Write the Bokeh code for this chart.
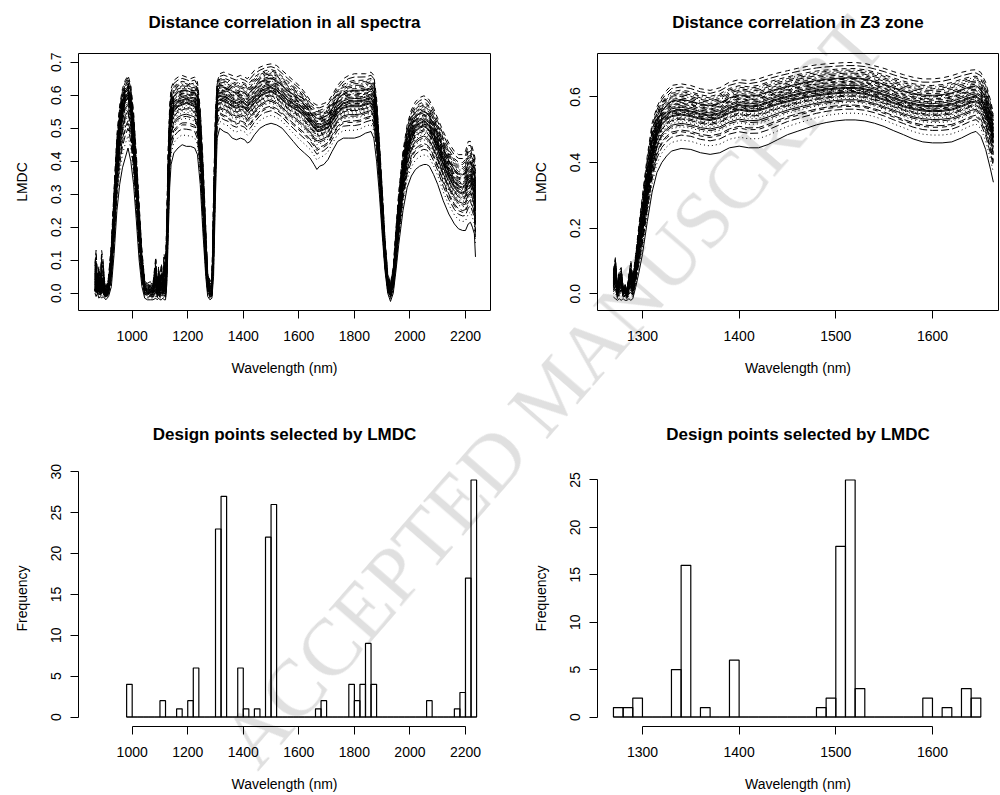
import math
import numpy as np
from bokeh.plotting import figure
from bokeh.layouts import column, row
from bokeh.models import FixedTicker, NumeralTickFormatter, Range1d, Div, Title
from bokeh.embed import file_html
from bokeh.resources import INLINE

# ---------------- data ----------------
# All-spectra LMDC curves: lowest, median and highest curve
wl_all = [866, 870, 875, 880, 885, 890, 895, 900, 905, 910,
          915, 925, 935, 945, 955, 965, 975, 985, 995, 1005,
          1015, 1025, 1035, 1045, 1055, 1065, 1075, 1085, 1090, 1095,
          1100, 1105, 1110, 1115, 1120, 1125, 1130, 1135, 1140, 1150,
          1165, 1180, 1195, 1210, 1225, 1235, 1245, 1255, 1265, 1272,
          1280, 1287, 1293, 1300, 1306, 1315, 1330, 1345, 1360, 1375,
          1390, 1405, 1415, 1425, 1440, 1460, 1480, 1500, 1520, 1540,
          1560, 1580, 1600, 1620, 1640, 1655, 1665, 1675, 1690, 1705,
          1720, 1740, 1760, 1780, 1800, 1820, 1840, 1860, 1870, 1880,
          1890, 1900, 1910, 1920, 1930, 1940, 1950, 1960, 1975, 1990,
          2005, 2020, 2035, 2050, 2060, 2070, 2085, 2100, 2120, 2140,
          2160, 2175, 2190, 2200, 2210, 2218, 2225, 2232, 2236]
low_all = [0.00, -0.01, 0.0, -0.015, -0.01, -0.015, -0.01, -0.015, -0.02, -0.015,
           -0.01, 0.02, 0.12, 0.25, 0.33, 0.38, 0.41, 0.44, 0.40, 0.33,
           0.22, 0.10, 0.02, -0.015, -0.02, -0.02, -0.02, -0.015, -0.02, -0.015,
           -0.02, -0.02, -0.015, -0.02, -0.02, 0.03, 0.18, 0.32, 0.39, 0.425,
           0.44, 0.45, 0.445, 0.445, 0.44, 0.42, 0.33, 0.18, 0.05, -0.01,
           -0.02, -0.015, 0.05, 0.30, 0.47, 0.50, 0.49, 0.485, 0.47, 0.465,
           0.47, 0.465, 0.455, 0.46, 0.48, 0.50, 0.51, 0.515, 0.51, 0.50,
           0.48, 0.46, 0.44, 0.425, 0.41, 0.39, 0.375, 0.385, 0.39, 0.405,
           0.43, 0.46, 0.47, 0.47, 0.47, 0.475, 0.485, 0.49, 0.47, 0.40,
           0.30, 0.18, 0.07, 0.0, -0.025, 0.0, 0.07, 0.15, 0.25, 0.32,
           0.355, 0.375, 0.385, 0.39, 0.39, 0.385, 0.36, 0.33, 0.28, 0.24,
           0.21, 0.195, 0.19, 0.19, 0.21, 0.215, 0.20, 0.18, 0.11]
mid_all = [0.01, 0.03, 0.0, 0.02, 0.0, 0.01, 0.03, 0.0, -0.005, 0.0,
           0.01, 0.08, 0.22, 0.37, 0.48, 0.54, 0.58, 0.59, 0.55, 0.45,
           0.32, 0.18, 0.07, 0.01, 0.0, 0.005, 0.0, 0.01, 0.0, 0.01,
           0.0, 0.005, 0.0, 0.01, 0.0, 0.10, 0.30, 0.45, 0.52, 0.55,
           0.565, 0.57, 0.575, 0.57, 0.565, 0.54, 0.44, 0.28, 0.10, 0.02,
           0.0, 0.0, 0.15, 0.45, 0.58, 0.585, 0.58, 0.575, 0.565, 0.56,
           0.565, 0.56, 0.55, 0.56, 0.575, 0.595, 0.605, 0.61, 0.60, 0.585,
           0.57, 0.56, 0.55, 0.535, 0.515, 0.50, 0.49, 0.49, 0.495, 0.50,
           0.52, 0.545, 0.56, 0.565, 0.565, 0.565, 0.57, 0.575, 0.56, 0.50,
           0.38, 0.24, 0.10, 0.02, 0.0, 0.03, 0.12, 0.22, 0.34, 0.42,
           0.465, 0.49, 0.50, 0.505, 0.50, 0.49, 0.465, 0.435, 0.39, 0.35,
           0.32, 0.305, 0.30, 0.305, 0.33, 0.34, 0.32, 0.30, 0.25]
high_all = [0.09, 0.13, 0.05, 0.08, 0.03, 0.13, 0.10, 0.04, 0.02, 0.03,
            0.05, 0.15, 0.32, 0.48, 0.57, 0.62, 0.645, 0.66, 0.63, 0.55,
            0.42, 0.27, 0.13, 0.04, 0.03, 0.035, 0.03, 0.11, 0.03, 0.08,
            0.04, 0.09, 0.05, 0.12, 0.07, 0.25, 0.45, 0.57, 0.62, 0.645,
            0.655, 0.66, 0.655, 0.65, 0.655, 0.64, 0.56, 0.40, 0.20, 0.06,
            0.04, 0.03, 0.30, 0.55, 0.64, 0.665, 0.67, 0.665, 0.66, 0.655,
            0.66, 0.655, 0.65, 0.66, 0.675, 0.685, 0.692, 0.695, 0.69, 0.675,
            0.66, 0.645, 0.63, 0.61, 0.585, 0.575, 0.57, 0.57, 0.575, 0.58,
            0.60, 0.63, 0.65, 0.66, 0.665, 0.665, 0.665, 0.67, 0.66, 0.59,
            0.46, 0.32, 0.17, 0.06, 0.03, 0.08, 0.20, 0.31, 0.43, 0.51,
            0.555, 0.58, 0.593, 0.598, 0.595, 0.585, 0.56, 0.53, 0.49, 0.455,
            0.43, 0.42, 0.42, 0.43, 0.46, 0.46, 0.44, 0.42, 0.40]

# Z3-zone LMDC curves: lowest, median and highest curve
wl_z3 = [1270, 1272, 1274, 1276, 1278, 1280, 1282, 1284, 1286, 1288,
         1290, 1293, 1296, 1300, 1305, 1310, 1315, 1320, 1325, 1330,
         1340, 1350, 1360, 1370, 1380, 1390, 1400, 1410, 1420, 1430,
         1440, 1450, 1460, 1470, 1480, 1490, 1500, 1510, 1520, 1530,
         1540, 1550, 1560, 1570, 1580, 1590, 1600, 1610, 1620, 1630,
         1640, 1645, 1650, 1655, 1660, 1663]
low_z3 = [-0.01, -0.015, -0.02, -0.015, -0.02, -0.015, -0.02, -0.02, -0.015, -0.02,
          -0.015, 0.02, 0.06, 0.12, 0.22, 0.31, 0.37, 0.40, 0.42, 0.435,
          0.443, 0.44, 0.43, 0.425, 0.43, 0.445, 0.45, 0.445, 0.445, 0.455,
          0.47, 0.485, 0.495, 0.505, 0.515, 0.522, 0.527, 0.53, 0.53, 0.527,
          0.52, 0.51, 0.497, 0.485, 0.472, 0.463, 0.46, 0.46, 0.463, 0.475,
          0.49, 0.495, 0.48, 0.44, 0.38, 0.34]
mid_z3 = [0.03, 0.06, 0.0, 0.02, 0.04, 0.0, 0.01, -0.005, 0.02, 0.04,
          0.01, 0.06, 0.13, 0.20, 0.31, 0.41, 0.48, 0.515, 0.53, 0.54,
          0.545, 0.54, 0.532, 0.528, 0.535, 0.55, 0.56, 0.555, 0.557, 0.567,
          0.577, 0.585, 0.592, 0.598, 0.603, 0.607, 0.61, 0.612, 0.612, 0.608,
          0.60, 0.59, 0.58, 0.57, 0.562, 0.557, 0.555, 0.556, 0.56, 0.57,
          0.582, 0.585, 0.575, 0.545, 0.50, 0.46]
high_z3 = [0.07, 0.11, 0.03, 0.07, 0.08, 0.02, 0.03, 0.01, 0.06, 0.10,
           0.05, 0.12, 0.20, 0.30, 0.42, 0.52, 0.57, 0.60, 0.62, 0.635,
           0.64, 0.635, 0.625, 0.62, 0.628, 0.645, 0.653, 0.65, 0.655, 0.665,
           0.673, 0.68, 0.687, 0.693, 0.698, 0.701, 0.703, 0.705, 0.705, 0.702,
           0.695, 0.687, 0.677, 0.668, 0.66, 0.655, 0.655, 0.658, 0.665, 0.675,
           0.682, 0.683, 0.675, 0.645, 0.59, 0.55]

# position of each sample curve inside the band (-1 = lowest, 0 = median, 1 = highest)
curve_positions = [0.0, 0.35, -0.2, 0.6, -0.45, 0.15, 1.0, -0.1, 0.45, -0.3,
                   0.25, 0.8, -0.05, 0.05, -0.6, 0.5, 0.1, -0.15, 0.7, 0.3,
                   -1.0, 0.2, -0.35, 0.4, 0.9, -0.25, 0.55, 0.12, -0.08, 0.65,
                   0.03, -0.5, 0.28, 0.75, -0.12, 0.18, 0.38, -0.75, 0.08, 0.48]

# Histogram of selected design points, all spectra (20 nm bins)
breaks_all = list(range(980, 2241, 20))
counts_all = [4, 0, 0, 0, 0, 0, 2, 0, 0, 1,
              0, 2, 6, 0, 0, 0, 23, 27, 0, 0,
              6, 1, 0, 1, 0, 22, 26, 0, 0, 0,
              0, 0, 0, 0, 1, 2, 0, 0, 0, 0,
              4, 2, 4, 9, 4, 0, 0, 0, 0, 0,
              0, 0, 0, 0, 2, 0, 0, 0, 0, 1,
              3, 17, 29]

# Histogram of selected design points, Z3 zone (10 nm bins)
breaks_z3 = list(range(1270, 1651, 10))
counts_z3 = [1, 1, 2, 0, 0, 0, 5, 16, 0, 1,
             0, 0, 6, 0, 0, 0, 0, 0, 0, 0,
             0, 1, 2, 18, 25, 3, 0, 0, 0, 0,
             0, 0, 2, 0, 1, 0, 3, 2]

titles = ["Distance correlation in all spectra", "Distance correlation in Z3 zone",
          "Design points selected by LMDC", "Design points selected by LMDC"]
x_label = "Wavelength (nm)"
watermark = "ACCEPTED MANUSCRIPT"
ticks_x_all = [1000, 1200, 1400, 1600, 1800, 2000, 2200]
ticks_x_z3 = [1300, 1400, 1500, 1600]
ticks_y_all = [0.0, 0.1, 0.2, 0.3, 0.4, 0.5, 0.6, 0.7]
ticks_y_z3 = [0.0, 0.2, 0.4, 0.6]
ticks_h_all = [0, 5, 10, 15, 20, 25, 30]
ticks_h_z3 = [0, 5, 10, 15, 20, 25]

# ---------------- layout constants ----------------
FONT = "Liberation Sans"
LEFT_W, RIGHT_W = 500, 500
TOP_H, BOT_H = 397, 397
L_MB = (78, 10)     # left, right borders of left column
R_MB = (97, 2)      # left, right borders of right column
T_MB = (53, 87)     # top, bottom borders of top row
B_MB = (73, 68)     # top, bottom borders of bottom row
DASHES = ["solid", "5 4", "1 3", "1 3 5 3", "8 3"]


def make_fig(col, rowi, x_range, y_range, title, outline):
    w = LEFT_W if col == 0 else RIGHT_W
    h = TOP_H if rowi == 0 else BOT_H
    mbl, mbr = L_MB if col == 0 else R_MB
    mbt, mbb = T_MB if rowi == 0 else B_MB
    p = figure(width=w, height=h, x_range=x_range, y_range=y_range,
               output_backend="svg", toolbar_location=None, tools="",
               min_border_left=mbl, min_border_right=mbr,
               min_border_top=mbt, min_border_bottom=mbb, title=None)
    p.grid.visible = False
    p.background_fill_color = "white"
    p.border_fill_color = "white"
    p.outline_line_color = "black" if outline else None
    p.outline_line_width = 1
    # a small blank title row lifts the real title away from the frame
    gap = Title(text=" ", align="center", text_font=FONT,
                text_font_size="4px" if rowi == 0 else "8.5px")
    p.add_layout(gap, "above")
    t = Title(text=title, align="center", text_font=FONT, text_font_style="bold",
              text_font_size="17px", text_color="black")
    p.add_layout(t, "above")
    return p


def style_axis(ax, ticks, label, fmt=None, vertical=False, standoff=12, lab_standoff=16):
    ax.ticker = FixedTicker(ticks=ticks, minor_ticks=[])
    ax.bounds = (ticks[0], ticks[-1])
    if fmt:
        ax.formatter = NumeralTickFormatter(format=fmt)
    ax.major_tick_out = 8
    ax.major_tick_in = 0
    ax.minor_tick_out = 0
    ax.minor_tick_in = 0
    ax.axis_line_color = "black"
    ax.major_tick_line_color = "black"
    ax.major_label_text_font = FONT
    ax.major_label_text_font_size = "14px"
    ax.major_label_text_color = "black"
    ax.major_label_standoff = standoff
    ax.axis_label = label
    ax.axis_label_text_font = FONT
    ax.axis_label_text_font_size = "14px"
    ax.axis_label_text_font_style = "normal"
    ax.axis_label_text_color = "black"
    ax.axis_label_standoff = lab_standoff
    if vertical:
        ax.major_label_orientation = "vertical"


def band_curves(low, mid, high, positions):
    low, mid, high = np.asarray(low), np.asarray(mid), np.asarray(high)
    out = []
    for f in positions:
        if f < 0:
            out.append(mid + f * (mid - low))
        else:
            out.append(mid + f * (high - mid))
    return out


def draw_spectra(p, wl, curves):
    for k, dash in enumerate(DASHES):
        xs = [list(wl) for i in range(len(curves)) if i % len(DASHES) == k]
        ys = [list(curves[i]) for i in range(len(curves)) if i % len(DASHES) == k]
        p.multi_line(xs=xs, ys=ys, line_color="black", line_width=1, line_dash=dash)


def draw_hist(p, breaks, counts):
    p.quad(left=breaks[:-1], right=breaks[1:], bottom=[0] * len(counts), top=counts,
           fill_color=None, line_color="black", line_width=1.2)
    p.line(x=[breaks[0], breaks[-1]], y=[0, 0], line_color="black", line_width=1)


XR_ALL = (806.7, 2290.1)
XR_Z3 = (1253.5, 1668.3)

# top-left
p1 = make_fig(0, 0, Range1d(*XR_ALL), Range1d(-0.0524, 0.7264), titles[0], True)
draw_spectra(p1, wl_all, band_curves(low_all, mid_all, high_all, curve_positions))
style_axis(p1.xaxis[0], ticks_x_all, x_label)
style_axis(p1.yaxis[0], ticks_y_all, "LMDC", fmt="0.0", vertical=True, standoff=9, lab_standoff=19)

# top-right
p2 = make_fig(1, 0, Range1d(*XR_Z3), Range1d(-0.051, 0.7325), titles[1], True)
draw_spectra(p2, wl_z3, band_curves(low_z3, mid_z3, high_z3, curve_positions))
style_axis(p2.xaxis[0], ticks_x_z3, x_label)
style_axis(p2.yaxis[0], ticks_y_z3, "LMDC", fmt="0.0", vertical=True, standoff=9, lab_standoff=19)

# bottom-left
p3 = make_fig(0, 1, Range1d(*XR_ALL), Range1d(-1.16, 30.16), titles[2], False)
draw_hist(p3, breaks_all, counts_all)
style_axis(p3.xaxis[0], ticks_x_all, x_label)
style_axis(p3.yaxis[0], ticks_h_all, "Frequency", vertical=True, standoff=9, lab_standoff=19)

# bottom-right
p4 = make_fig(1, 1, Range1d(*XR_Z3), Range1d(-1.0, 26.0), titles[3], False)
draw_hist(p4, breaks_z3, counts_z3)
style_axis(p4.xaxis[0], ticks_x_z3, x_label)
style_axis(p4.yaxis[0], ticks_h_z3, "Frequency", vertical=True, standoff=9, lab_standoff=19)

# faint diagonal watermark laid over the whole page (fits inside the window)
wm_html = ('<div style="position:fixed; left:553px; top:392px; width:0; height:0; '
           'pointer-events:none; z-index:50;">'
           '<div style="position:absolute; left:0; top:0; white-space:nowrap; '
           'transform:translate(-50%,-50%) rotate(-49deg); '
           "font-family:'Liberation Serif'; font-size:81px; line-height:1; "
           'color:rgba(0,0,0,0.12);">' + watermark + '</div></div>')
wm_div = Div(text=wm_html, width=1, height=1, margin=0)

layout = column(row(p1, p2, spacing=0), row(p3, p4, spacing=0), wm_div, spacing=0)

open("out.html", "w").write(file_html(layout, INLINE))
